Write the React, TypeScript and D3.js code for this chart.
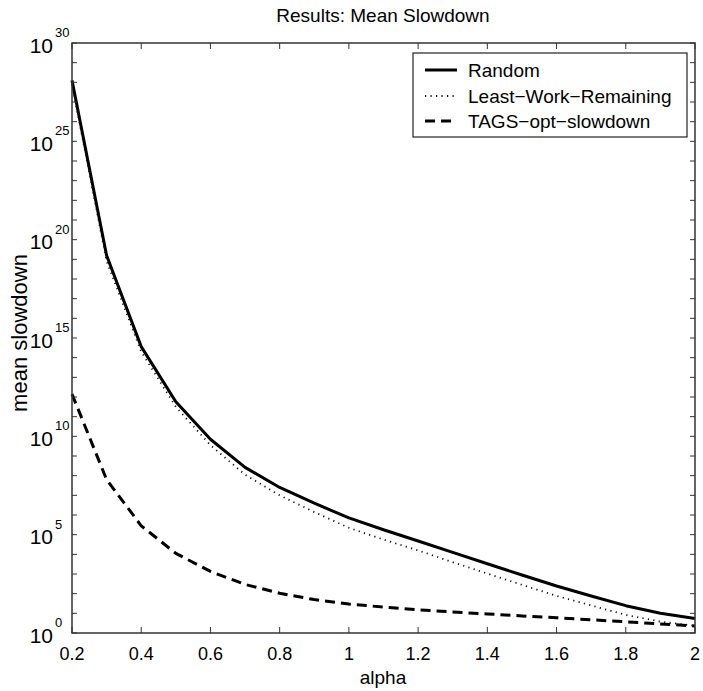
import React from "react";
import * as d3 from "d3";

const alphas = [0.2, 0.3, 0.4, 0.5, 0.6, 0.7, 0.8, 0.9, 1.0, 1.1, 1.2, 1.3, 1.4, 1.5, 1.6, 1.7, 1.8, 1.9, 2.0];
const randomVals = [1.26e28, 1.58e19, 3.63e14, 5.75e11, 7.08e9, 2.63e8, 2.51e7, 3.98e6, 7.08e5, 1.78e5, 4.79e4, 1.26e4, 3.31e3, 891, 245, 75.9, 24.5, 10, 5.5];
const lwrVals = [7.94e27, 7.94e18, 2.0e14, 3.16e11, 3.55e9, 1.12e8, 1.0e7, 1.41e6, 2.24e5, 5.62e4, 1.58e4, 3.98e3, 1.05e3, 282, 77.6, 25.1, 8.3, 3.8, 2.3];
const tagsVals = [1.41e12, 6.31e7, 2.82e5, 1.12e4, 1349, 295, 105, 50, 29.5, 20.9, 15.1, 11.7, 9.3, 7.4, 6.0, 4.7, 3.7, 2.9, 2.3];
const xTicks = [0.2, 0.4, 0.6, 0.8, 1, 1.2, 1.4, 1.6, 1.8, 2];
const xTickLabels = ["0.2", "0.4", "0.6", "0.8", "1", "1.2", "1.4", "1.6", "1.8", "2"];
const yMajorExps = [0, 5, 10, 15, 20, 25, 30];
const seriesNames = ["Random", "Least\u2212Work\u2212Remaining", "TAGS\u2212opt\u2212slowdown"];

const W = 703, H = 691;
const L = 72, R = 695, T = 43, B = 633;
const FONT = "'Liberation Sans', Arial, Helvetica, sans-serif";

export default function App() {
  const x = d3.scaleLinear().domain([0.2, 2]).range([L, R]);
  const y = d3.scaleLog().domain([1, 1e30]).range([B, T]);
  const minorY = d3.range(0, 31).map((e) => Math.pow(10, e));

  const mk = (vals: number[]) =>
    d3.line<number>().x((_, i) => x(alphas[i])).y((v) => y(v))(vals) || "";

  const styles = [
    { stroke: "#000", width: 3, dash: undefined as string | undefined },
    { stroke: "#111", width: 1.8, dash: "1.2,4.3" },
    { stroke: "#000", width: 3, dash: "10,6" },
  ];
  const data = [randomVals, lwrVals, tagsVals];

  const legendRows = [70, 96, 121];

  return (
    <svg width={W} height={H} style={{ position: "absolute", left: 0, top: 0, background: "#fff" }} fontFamily={FONT}>
      <rect x={0} y={0} width={W} height={H} fill="#fff" />
      <text x={383} y={22} fontSize={19} textAnchor="middle" fill="#000">Results: Mean Slowdown</text>

      {/* data lines */}
      {data.map((vals, i) => (
        <path key={i} d={mk(vals)} fill="none" stroke={styles[i].stroke} strokeWidth={styles[i].width}
          strokeDasharray={styles[i].dash} strokeLinejoin="round" />
      ))}

      {/* y ticks */}
      {minorY.map((v, i) => (
        <g key={"yt" + i}>
          <line x1={L} x2={L + 5} y1={y(v)} y2={y(v)} stroke="#333" strokeWidth={1} />
          <line x1={R} x2={R - 5} y1={y(v)} y2={y(v)} stroke="#333" strokeWidth={1} />
        </g>
      ))}
      {/* x ticks */}
      {xTicks.map((t, i) => (
        <g key={"xt" + i}>
          <line x1={x(t)} x2={x(t)} y1={B} y2={B - 6} stroke="#333" strokeWidth={1} />
          <line x1={x(t)} x2={x(t)} y1={T} y2={T + 6} stroke="#333" strokeWidth={1} />
          <text x={x(t)} y={660} fontSize={18} textAnchor="middle" fill="#000">{xTickLabels[i]}</text>
        </g>
      ))}
      {/* y labels */}
      {yMajorExps.map((e) => {
        const yy = y(Math.pow(10, e));
        return (
          <g key={"yl" + e}>
            <text x={53} y={yy + 9.5} fontSize={21} textAnchor="end" fill="#000">10</text>
            <text x={55} y={yy - 6} fontSize={13} textAnchor="start" fill="#000">{String(e)}</text>
          </g>
        );
      })}

      {/* frame */}
      <rect x={L} y={T} width={R - L} height={B - T} fill="none" stroke="#333" strokeWidth={1.5} />

      {/* axis labels */}
      <text x={383} y={684} fontSize={19} textAnchor="middle" fill="#000">alpha</text>
      <text transform={`translate(27,${(T + B) / 2 - 5}) rotate(-90)`} fontSize={22} textAnchor="middle" fill="#000">mean slowdown</text>

      {/* legend */}
      <rect x={413} y={53} width={274} height={84} fill="#fff" stroke="#222" strokeWidth={1.2} />
      {seriesNames.map((n, i) => (
        <g key={"lg" + i}>
          <line x1={425} x2={457} y1={legendRows[i]} y2={legendRows[i]} stroke={styles[i].stroke}
            strokeWidth={styles[i].width} strokeDasharray={styles[i].dash} />
          <text x={468} y={legendRows[i] + 7} fontSize={19} fill="#000">{n}</text>
        </g>
      ))}
    </svg>
  );
}
